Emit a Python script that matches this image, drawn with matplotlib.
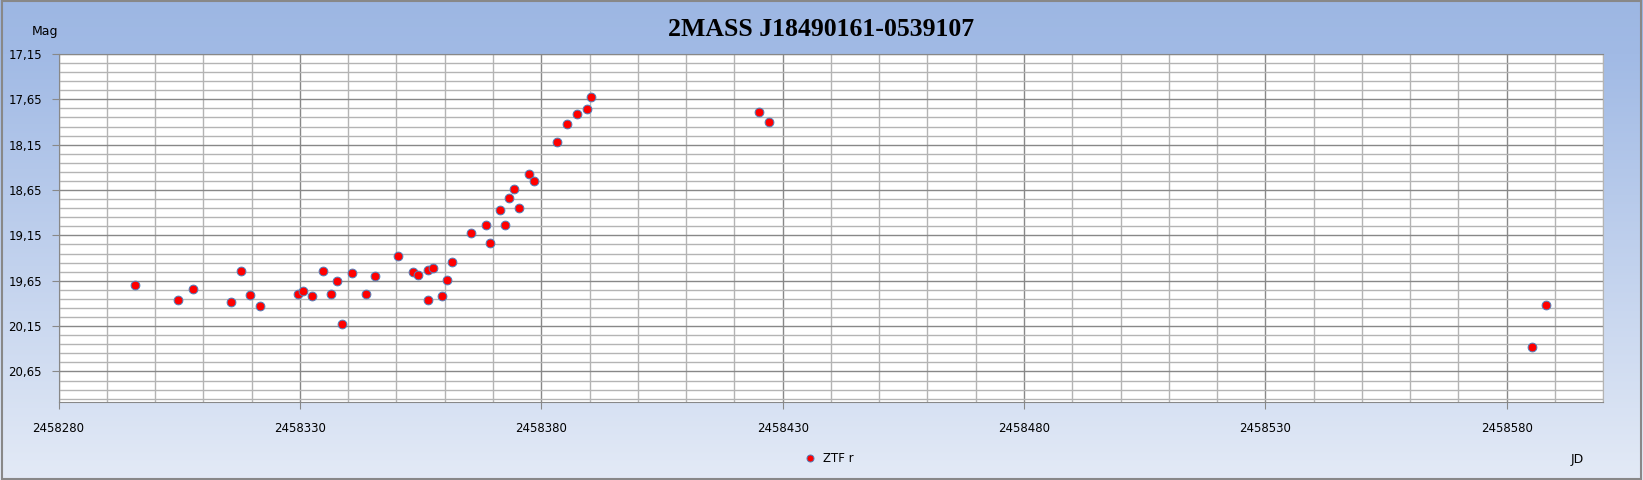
'''
Light curve of 2MASS J18490161-0539107 (ZTF r), Excel-like look
'''

import matplotlib.pyplot as plt
import matplotlib.ticker as mticker
from matplotlib.colors import LinearSegmentedColormap
from matplotlib.patches import Rectangle
import numpy as np

# ZTF r photometry
jd = [2458295.8, 2458304.8, 2458307.8, 2458315.7, 2458317.8, 2458319.6, 2458321.7,
      2458329.65, 2458330.75, 2458332.6, 2458334.7, 2458336.5, 2458337.6, 2458338.7,
      2458340.7, 2458343.6, 2458345.6, 2458350.4, 2458353.5, 2458354.5, 2458356.45,
      2458356.45, 2458357.6, 2458359.5, 2458360.45, 2458361.5, 2458365.4, 2458368.5,
      2458369.3, 2458371.4, 2458372.5, 2458373.4, 2458374.4, 2458375.3, 2458377.4,
      2458378.5, 2458383.3, 2458385.4, 2458387.4, 2458389.5, 2458390.4, 2458425.2,
      2458427.2, 2458585.2, 2458588.2]
mag = [19.70, 19.865, 19.744, 19.887, 19.545, 19.81, 19.93,
       19.80, 19.766, 19.818, 19.545, 19.796, 19.655, 20.127,
       19.56, 19.80, 19.60, 19.372, 19.553, 19.586, 19.857,
       19.526, 19.504, 19.813, 19.645, 19.446, 19.126, 19.037,
       19.236, 18.868, 19.037, 18.743, 18.64, 18.846, 18.474,
       18.555, 18.121, 17.92, 17.81, 17.757, 17.62, 17.79,
       17.904, 20.384, 19.917]

title = '2MASS J18490161-0539107'
series_label = 'ZTF r'

x_min, x_max = 2458280, 2458600
y_top, y_bottom = 17.15, 20.99

fig = plt.figure(figsize=(16.43, 4.8), dpi=100)

# background gradient
bg = fig.add_axes([0, 0, 1, 1], zorder=-5)
cmap = LinearSegmentedColormap.from_list('bg', [(0, '#9DB7E3'), (0.11, '#A1BAE5'), (1, '#E3EAF6')])
grad = np.linspace(0, 1, 256).reshape(-1, 1)
bg.imshow(grad, aspect='auto', cmap=cmap, extent=[0, 1, 0, 1], origin='upper')
bg.axis('off')

ax = fig.add_axes([58.5 / 1643, 1 - 402.3 / 480, (1603.3 - 58.5) / 1643, (402.3 - 54) / 480])
ax.set_facecolor('white')

ax.scatter(jd, mag, s=40, c='#FF0000', edgecolors='#4F81BD', linewidths=0.7,
           zorder=5, label=series_label)

ax.set_xlim(x_min, x_max)
ax.set_ylim(y_bottom, y_top)

ax.xaxis.set_major_locator(mticker.FixedLocator(np.arange(x_min, 2458581, 50)))
ax.xaxis.set_minor_locator(mticker.FixedLocator(np.arange(x_min, x_max + 1, 10)))
ax.xaxis.set_major_formatter(mticker.FuncFormatter(lambda v, p: f'{v:.0f}'))
ax.yaxis.set_major_locator(mticker.FixedLocator(np.arange(17.15, 20.7, 0.5)))
ax.yaxis.set_minor_locator(mticker.FixedLocator(np.arange(17.15, 20.96, 0.1)))
ax.yaxis.set_major_formatter(mticker.FuncFormatter(lambda v, p: f'{v:.2f}'.replace('.', ',')))

ax.grid(which='minor', color='#B4B4B4', lw=1.0)
ax.grid(which='major', color='#888888', lw=1.0)
ax.set_axisbelow(True)

ax.tick_params(axis='x', which='major', direction='out', length=5, color='#888888',
               pad=9, labelsize=8.5)
ax.tick_params(axis='y', which='major', direction='out', length=5, color='#888888',
               pad=7, labelsize=8.5)
ax.tick_params(which='minor', length=0)

for side in ['left', 'bottom', 'top']:
  ax.spines[side].set_color('#888888')
ax.spines['right'].set_color('#B4B4B4')

fig.text(0.5, 1 - 29 / 480, title, ha='center', va='center', fontsize=18.5,
         fontweight='bold', family='Liberation Serif')
fig.text(45 / 1643, 1 - 31 / 480, 'Mag', ha='center', va='center', fontsize=9)
fig.text(1577 / 1643, 1 - 459 / 480, 'JD', ha='center', va='center', fontsize=9)

ax.legend(loc='center', bbox_to_anchor=(826 / 1643, 1 - 458 / 480),
          bbox_transform=fig.transFigure, frameon=False, fontsize=8.5,
          handletextpad=0.1, borderpad=0, scatterpoints=1, markerscale=0.8)

fig.add_artist(Rectangle((0.001, 0.002), 0.998, 0.996, transform=fig.transFigure,
                         fill=False, edgecolor='#888888', lw=1.5))

plt.savefig('out.png', dpi=100)
